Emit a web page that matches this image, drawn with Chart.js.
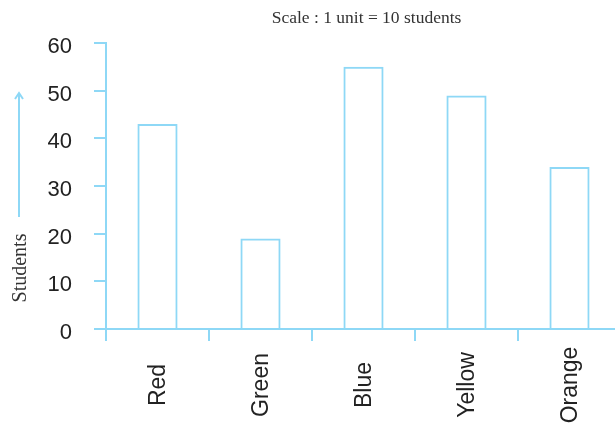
<!DOCTYPE html>
<html>
<head>
<meta charset="utf-8">
<script src="https://cdn.jsdelivr.net/npm/chart.js@4"></script>
<style>
    html, body { margin: 0; padding: 0; background: #fff; overflow: hidden; }
    #wrap { width: 621px; height: 425px; }
</style>
</head>
<body>
<div id="wrap"><canvas id="studentsChart"></canvas></div>
<script>
// --- DATA ---
const colours = ['Red', 'Green', 'Blue', 'Yellow', 'Orange'];
const students = [43, 19, 55, 49, 34];
const yTicks = [0, 10, 20, 30, 40, 50, 60];
const scaleNote = 'Scale : 1 unit = 10 students';
const axisName = 'Students';

const LINE = '#8ed8f6';
const INK = '#222';

// labels under the axis, the y caption with its arrow and the scale note
const extrasPlugin = {
    id: 'extras',
    afterDraw(chart) {
        const ctx = chart.ctx;
        const x = chart.scales.x;
        const area = chart.chartArea;
        ctx.save();

        // rotated category names, centred under each bar
        ctx.fillStyle = INK;
        ctx.font = '23px "Liberation Sans", Arial, sans-serif';
        ctx.textAlign = 'center';
        ctx.textBaseline = 'middle';
        colours.forEach((c, i) => {
            ctx.save();
            ctx.translate(x.getPixelForValue(i) + 1, area.bottom + 56);
            ctx.rotate(-Math.PI / 2);
            ctx.fillText(c, 0, 0);
            ctx.restore();
        });

        // scale note
        ctx.fillStyle = '#333';
        ctx.font = '17.5px "Liberation Serif", "Times New Roman", serif';
        ctx.fillText(scaleNote, (area.left + area.right) / 2 + 3, 18);

        // y caption
        ctx.save();
        ctx.translate(21, 268);
        ctx.rotate(-Math.PI / 2);
        ctx.font = '20px "Liberation Serif", "Times New Roman", serif';
        ctx.fillText(axisName, 0, 0);
        ctx.restore();

        // arrow above the caption
        ctx.strokeStyle = LINE;
        ctx.lineWidth = 2;
        ctx.beginPath();
        ctx.moveTo(19, 217);
        ctx.lineTo(19, 93);
        ctx.moveTo(15, 99);
        ctx.lineTo(19, 93);
        ctx.lineTo(23, 99);
        ctx.stroke();

        ctx.restore();
    }
};

const ctx = document.getElementById('studentsChart').getContext('2d');
new Chart(ctx, {
    type: 'bar',
    data: {
        labels: colours,
        datasets: [{
            data: students,
            backgroundColor: 'rgba(255,255,255,0)',
            borderColor: LINE,
            borderWidth: 2,
            categoryPercentage: 1,
            barPercentage: 0.39
        }]
    },
    options: {
        responsive: true,
        maintainAspectRatio: false,
        animation: false,
        layout: { padding: { top: 43, left: 0, right: 0, bottom: 0 } },
        plugins: {
            legend: { display: false },
            tooltip: { enabled: false }
        },
        scales: {
            x: {
                offset: true,
                grid: { drawOnChartArea: false, offset: true, color: LINE, lineWidth: 2, tickLength: 12 },
                border: { color: LINE, width: 2 },
                ticks: { display: false },
                afterFit: s => { s.height = 96; }
            },
            y: {
                min: 0,
                max: 60,
                afterBuildTicks: s => { s.ticks = yTicks.map(v => ({ value: v })); },
                grid: { drawOnChartArea: false, color: LINE, lineWidth: 2, tickLength: 12 },
                border: { color: LINE, width: 2 },
                ticks: {
                    color: INK,
                    padding: 22,
                    labelOffset: 4,
                    font: { family: '"Liberation Sans", Arial, sans-serif', size: 22 }
                },
                afterFit: s => { s.width = 106; }
            }
        }
    },
    plugins: [extrasPlugin]
});
</script>
</body>
</html>
